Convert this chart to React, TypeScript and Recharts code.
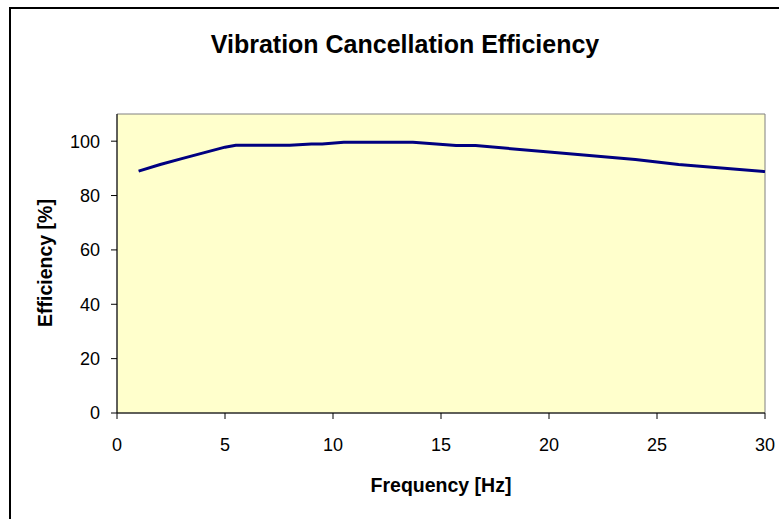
import React from 'react';
import { LineChart, Line, XAxis, YAxis, ReferenceArea } from 'recharts';

const frequencies = [1, 2, 3, 4, 5, 5.5, 8, 9, 9.5, 10.5, 13.7, 15.7, 16.6, 20, 24, 26, 30];
const efficiency = [89, 91.4, 93.6, 95.7, 97.8, 98.5, 98.5, 99, 99, 99.6, 99.6, 98.4, 98.4, 96, 93.3, 91.4, 88.8];
const xTicks = [0, 5, 10, 15, 20, 25, 30];
const yTicks = [0, 20, 40, 60, 80, 100];

const data = frequencies.map((f, i) => ({ f, e: efficiency[i] }));

const FONT = 'Arial, "Liberation Sans", sans-serif';

export default function App() {
  return (
    <div style={{ position: 'absolute', left: 0, top: 0, width: 779, height: 519, overflow: 'hidden', background: '#fff' }}>
      <div style={{ position: 'absolute', left: 9, top: 7, width: 820, height: 620, border: '2px solid #000', boxSizing: 'border-box' }} />
      <div style={{ position: 'absolute', left: 0, top: 0 }}>
        <LineChart width={779} height={519} data={data} margin={{ top: 114, right: 14, bottom: 46, left: 10 }}>
          <ReferenceArea x1={0} x2={30} y1={0} y2={110} fill="#FFFFCC" fillOpacity={1} stroke="#808080" strokeWidth={1} ifOverflow="visible" />
          <XAxis
            dataKey="f"
            type="number"
            domain={[0, 30]}
            ticks={xTicks}
            interval={0}
            height={60}
            tickSize={6}
            tickMargin={19}
            stroke="#000"
            tick={{ fill: '#000', fontSize: 18, fontFamily: FONT }}
            tickLine={{ stroke: '#000' }}
            axisLine={{ stroke: '#000' }}
          />
          <YAxis
            type="number"
            domain={[0, 110]}
            ticks={yTicks}
            interval={0}
            width={107}
            tickSize={6}
            tickMargin={11}
            stroke="#000"
            tick={{ fill: '#000', fontSize: 18, fontFamily: FONT }}
            tickLine={{ stroke: '#000' }}
            axisLine={{ stroke: '#000' }}
          />
          <Line type="linear" dataKey="e" stroke="#000080" strokeWidth={3} dot={false} isAnimationActive={false} />
        </LineChart>
      </div>
      <svg width={779} height={519} style={{ position: 'absolute', left: 0, top: 0, pointerEvents: 'none' }}>
        <text x={405} y={53} textAnchor="middle" fontFamily={FONT} fontWeight="bold" fontSize={25} fill="#000">
          Vibration Cancellation Efficiency
        </text>
        <text x={441} y={491.5} textAnchor="middle" fontFamily={FONT} fontWeight="bold" fontSize={19.5} fill="#000">
          Frequency [Hz]
        </text>
        <text x={51.5} y={263} transform="rotate(-90 51.5 263)" textAnchor="middle" fontFamily={FONT} fontWeight="bold" fontSize={19.5} fill="#000">
          Efficiency [%]
        </text>
      </svg>
    </div>
  );
}
